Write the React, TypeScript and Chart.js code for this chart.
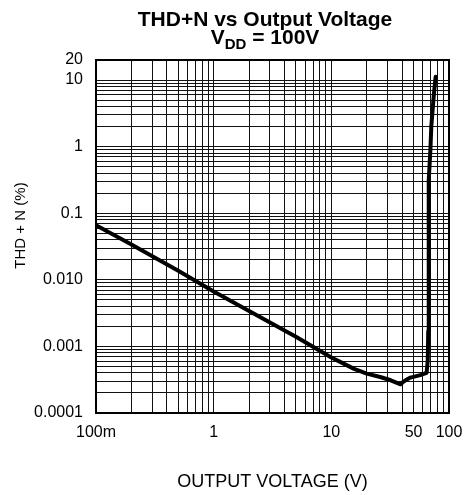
import React, { useEffect, useRef } from 'react';
import { Chart, registerables } from 'chart.js';

Chart.register(...registerables);

// Output voltage (V)
const voltage = [
  0.1, 0.2, 0.5, 1, 2, 5, 10, 12, 15.6, 20, 26, 32, 38.8, 40.5, 42.7, 47, 57,
  64.5, 66, 66.6, 66.9, 67.6, 69.5, 70.7, 74.5, 77,
];
// THD+N (%)
const thdN = [
  0.066, 0.034, 0.0137, 0.0067, 0.0034, 0.0014, 0.00068, 0.00058, 0.00046,
  0.00039, 0.000347, 0.00031, 0.00027, 0.00029, 0.00031, 0.00034, 0.00037,
  0.0004, 0.00062, 0.0017, 0.028, 0.31, 0.9, 2.0, 6.3, 11.2,
];

const xMin = 0.1;
const xMax = 100;
const yMin = 0.0001;
const yMax = 20;

const xTickValues = [0.1, 1, 10, 50, 100];
const xTickLabels = ['100m', '1', '10', '50', '100'];
const yTickValues = [0.0001, 0.001, 0.01, 0.1, 1, 10, 20];
const yTickLabels = ['0.0001', '0.001', '0.010', '0.1', '1', '10', '20'];

const yAxisTitle = 'THD + N (%)';
const xAxisTitle = 'OUTPUT VOLTAGE (V)';

const FONT = '"Liberation Sans", Arial, Helvetica, sans-serif';

function logGrid(min: number, max: number): number[] {
  const out: number[] = [];
  const e0 = Math.floor(Math.log10(min));
  const e1 = Math.ceil(Math.log10(max));
  for (let e = e0; e <= e1; e++) {
    for (let m = 1; m <= 9; m++) {
      const v = m * Math.pow(10, e);
      if (v >= min * 0.9999 && v <= max * 1.0001) out.push(v);
    }
  }
  if (Math.abs(Math.log10(out[out.length - 1]) - Math.log10(max)) > 1e-6) out.push(max);
  return out;
}

function labelFor(value: number, values: number[], labels: string[]): string {
  for (let i = 0; i < values.length; i++) {
    if (Math.abs(Math.log10(value) - Math.log10(values[i])) < 1e-6) return labels[i];
  }
  return '';
}

const borderPlugin = {
  id: 'plotBorder',
  afterDraw(chart: any) {
    const { ctx, chartArea } = chart;
    ctx.save();
    ctx.strokeStyle = '#000';
    ctx.lineWidth = 2;
    ctx.strokeRect(chartArea.left, chartArea.top, chartArea.right - chartArea.left, chartArea.bottom - chartArea.top);
    // y axis title, placed a little above the plot centre as in the reference
    ctx.translate(21, (chartArea.top + chartArea.bottom) / 2 - 11);
    ctx.rotate(-Math.PI / 2);
    ctx.fillStyle = '#000';
    ctx.font = `15px ${FONT}`;
    ctx.textAlign = 'center';
    ctx.textBaseline = 'middle';
    ctx.fillText(yAxisTitle, 0, 0);
    ctx.restore();
  },
};

export default function App() {
  const canvasRef = useRef<HTMLCanvasElement | null>(null);

  useEffect(() => {
    if (!canvasRef.current) return;
    const chart = new Chart(canvasRef.current, {
      type: 'line',
      data: {
        datasets: [
          {
            data: voltage.map((v, i) => ({ x: v, y: thdN[i] })),
            borderColor: '#000',
            borderWidth: 4,
            pointRadius: 0,
            tension: 0,
            borderJoinStyle: 'round',
            borderCapStyle: 'round',
            fill: false,
          },
        ],
      },
      options: {
        animation: false,
        responsive: true,
        maintainAspectRatio: false,
        layout: { padding: { top: 60, right: 16, left: 0, bottom: 0 } },
        plugins: {
          legend: { display: false },
          tooltip: { enabled: false },
          title: { display: false },
        },
        scales: {
          x: {
            type: 'logarithmic',
            min: xMin,
            max: xMax,
            afterBuildTicks: (scale: any) => {
              scale.ticks = logGrid(xMin, xMax).map((v) => ({ value: v }));
            },
            afterFit: (scale: any) => {
              scale.height = 82;
              scale.paddingLeft = 0;
              scale.paddingRight = 0;
            },
            grid: { color: '#111', lineWidth: 1, drawTicks: false },
            border: { display: false },
            ticks: {
              autoSkip: false,
              maxRotation: 0,
              minRotation: 0,
              padding: 10,
              color: '#000',
              font: { family: FONT, size: 16 },
              callback: (value: any) => labelFor(Number(value), xTickValues, xTickLabels),
            },
            title: {
              display: true,
              text: xAxisTitle,
              color: '#000',
              font: { family: FONT, size: 18 },
              padding: { top: 0, bottom: 2 },
            },
          },
          y: {
            type: 'logarithmic',
            min: yMin,
            max: yMax,
            afterBuildTicks: (scale: any) => {
              scale.ticks = logGrid(yMin, yMax).map((v) => ({ value: v }));
            },
            afterFit: (scale: any) => {
              scale.width = 96;
              scale.paddingTop = 0;
              scale.paddingBottom = 0;
            },
            grid: { color: '#111', lineWidth: 1, drawTicks: false },
            border: { display: false },
            ticks: {
              autoSkip: false,
              padding: 13,
              color: '#000',
              font: { family: FONT, size: 16 },
              callback: (value: any) => labelFor(Number(value), yTickValues, yTickLabels),
            },
            title: { display: false },
          },
        },
      },
      plugins: [borderPlugin],
    } as any);
    return () => chart.destroy();
  }, []);

  return (
    <div style={{ position: 'absolute', left: 0, top: 0, width: 465, height: 495, background: '#fff' }}>
      <div style={{ position: 'absolute', left: 0, top: 0, width: 465, height: 495 }}>
        <canvas ref={canvasRef} />
      </div>
      <div
        style={{
          position: 'absolute',
          left: 265,
          top: 9,
          transform: 'translateX(-50%)',
          whiteSpace: 'nowrap',
          fontFamily: FONT,
          fontWeight: 'bold',
          fontSize: 21,
          lineHeight: '20px',
          color: '#000',
        }}
      >
        THD+N vs Output Voltage
      </div>
      <div
        style={{
          position: 'absolute',
          left: 265,
          top: 27,
          transform: 'translateX(-50%)',
          whiteSpace: 'nowrap',
          fontFamily: FONT,
          fontWeight: 'bold',
          fontSize: 21,
          lineHeight: '20px',
          color: '#000',
        }}
      >
        V
        <span style={{ fontSize: 15, position: 'relative', top: 5 }}>DD</span>
        {' = 100V'}
      </div>
    </div>
  );
}
